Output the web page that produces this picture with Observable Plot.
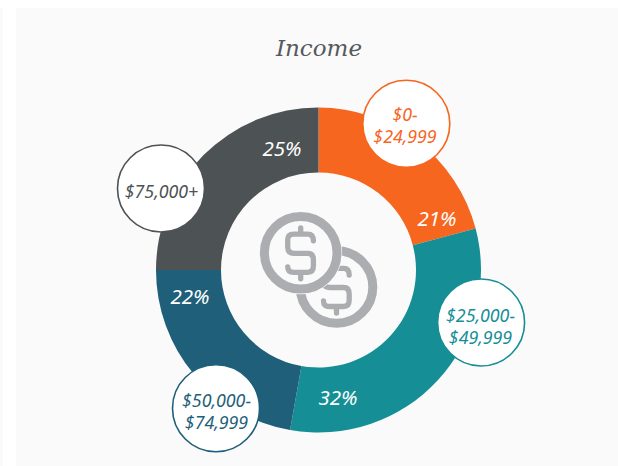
<!DOCTYPE html>
<html>
<head>
<meta charset="utf-8">
<script src="https://cdn.jsdelivr.net/npm/d3@7"></script>
<script src="https://cdn.jsdelivr.net/npm/@observablehq/plot@0.6"></script>
<style>
html,body{margin:0;padding:0;background:#fff;width:618px;height:466px;overflow:hidden}
#panel{position:absolute;left:16px;top:8px;right:0;bottom:0;background:#fafafa}
#strip{position:absolute;left:0;top:8px;width:3px;bottom:0;background:#fafafa}
#chart{position:absolute;left:0;top:0}
svg{display:block;background:transparent !important}
</style>
</head>
<body>
<div id="strip"></div><div id="panel"></div><div id="chart"></div>
<script>
const categories = ["$0-\n$24,999", "$25,000-\n$49,999", "$50,000-\n$74,999", "$75,000+"];
const shares = [20.9, 31.9, 22.2, 25];
const colors = ["#f6661f", "#168e96", "#1f5f7a", "#4d5254"];
const title = "Income";

// layout, offsets from the ring's centre
const shareLabelDx = [118, 19, -129, -37];
const shareLabelDy = [-51, 128, 27, -121];
const calloutDx = [87.3, 162.1, -103, -158];
const calloutDy = [-146.7, 52, 137.8, -82];
const calloutTextDx = [86, 161.5, -102.5, -157.5];
const calloutTextDy = [-145.5, 55.5, 140.5, -80];

const cx = 318.5, cy = 270, W = 618, H = 466;
const rows = categories.map((c, i) => ({
  category: c, share: shares[i], color: colors[i],
  lx: shareLabelDx[i], ly: shareLabelDy[i], cx: calloutDx[i], cy: calloutDy[i],
  tx: calloutTextDx[i], ty: calloutTextDy[i]
}));

const donut = (index, scales) => {
  const pie = d3.pie().sort(null).value(d => d.share)(rows);
  const arc = d3.arc().innerRadius(97.5).outerRadius(162.5);
  const g = d3.create("svg:g").attr("transform", `translate(${scales.x(0)},${scales.y(0)})`);
  g.selectAll("path").data(pie).join("path").attr("d", arc).attr("fill", d => d.data.color);
  return g.node();
};

const dollar = {
  draw(c) {
    c.moveTo(12.7, -12);
    c.quadraticCurveTo(12.7, -18.7, 7, -18.7);
    c.lineTo(-7, -18.7);
    c.quadraticCurveTo(-13, -18.7, -13, -13);
    c.lineTo(-13, -6);
    c.quadraticCurveTo(-13, 0.5, -7, 0.5);
    c.lineTo(7, 0.5);
    c.quadraticCurveTo(12.7, 0.5, 12.7, 7);
    c.lineTo(12.7, 13);
    c.quadraticCurveTo(12.7, 19.5, 7, 19.5);
    c.lineTo(-7, 19.5);
    c.quadraticCurveTo(-13, 19.5, -13, 14);
    c.moveTo(0, -25); c.lineTo(0, -19);
    c.moveTo(0, 20); c.lineTo(0, 26);
  }
};

const coins = [{x: 17.5, y: 16.5}];
const front = [{x: -18.3, y: -17.7}];
const iconColor = "#acadb1", iconOpts = {stroke: iconColor, strokeWidth: 5.3, strokeLinecap: "round", strokeLinejoin: "round", fill: "none"};
const ring = {x: "x", y: "y", r: 36.3, stroke: iconColor, strokeWidth: 9, fill: "none"};

const plot = Plot.plot({
  width: W, height: H,
  marginTop: 0, marginRight: 0, marginBottom: 0, marginLeft: 0,
  x: {domain: [-cx, W - cx], range: [0, W], axis: null},
  y: {domain: [-cy, H - cy], range: [0, H], axis: null},
  style: {background: "transparent"},
  marks: [
    donut,
    Plot.dot(coins, ring),
    Plot.dot(coins, {x: "x", y: "y", symbol: dollar, ...iconOpts}),
    Plot.dot(front, {x: "x", y: "y", r: 41.5, fill: "#fafafa", stroke: "none"}),
    Plot.dot(front, ring),
    Plot.dot(front, {x: "x", y: "y", symbol: dollar, ...iconOpts}),
    Plot.dot(rows, {x: "cx", y: "cy", r: 43.5, fill: "#fff", stroke: "color", strokeWidth: 1.6}),
    Plot.text(rows, {x: "tx", y: "ty", text: "category", fill: "color", fontSize: 17.8, lineHeight: 1.25,
      fontFamily: "'Noto Sans'", fontStyle: "italic"}),
    Plot.text(rows, {x: "lx", y: "ly", text: d => Math.round(d.share) + "%", fill: "#fff", fontSize: 20.5,
      fontFamily: "'Noto Sans'", fontStyle: "italic"}),
    Plot.text([title], {x: [0], y: [-222], text: d => d, fill: "#55595c", fontSize: 23,
      fontFamily: "'DejaVu Serif'", fontStyle: "italic"})
  ]
});
document.getElementById("chart").append(plot);
</script>
</body>
</html>
